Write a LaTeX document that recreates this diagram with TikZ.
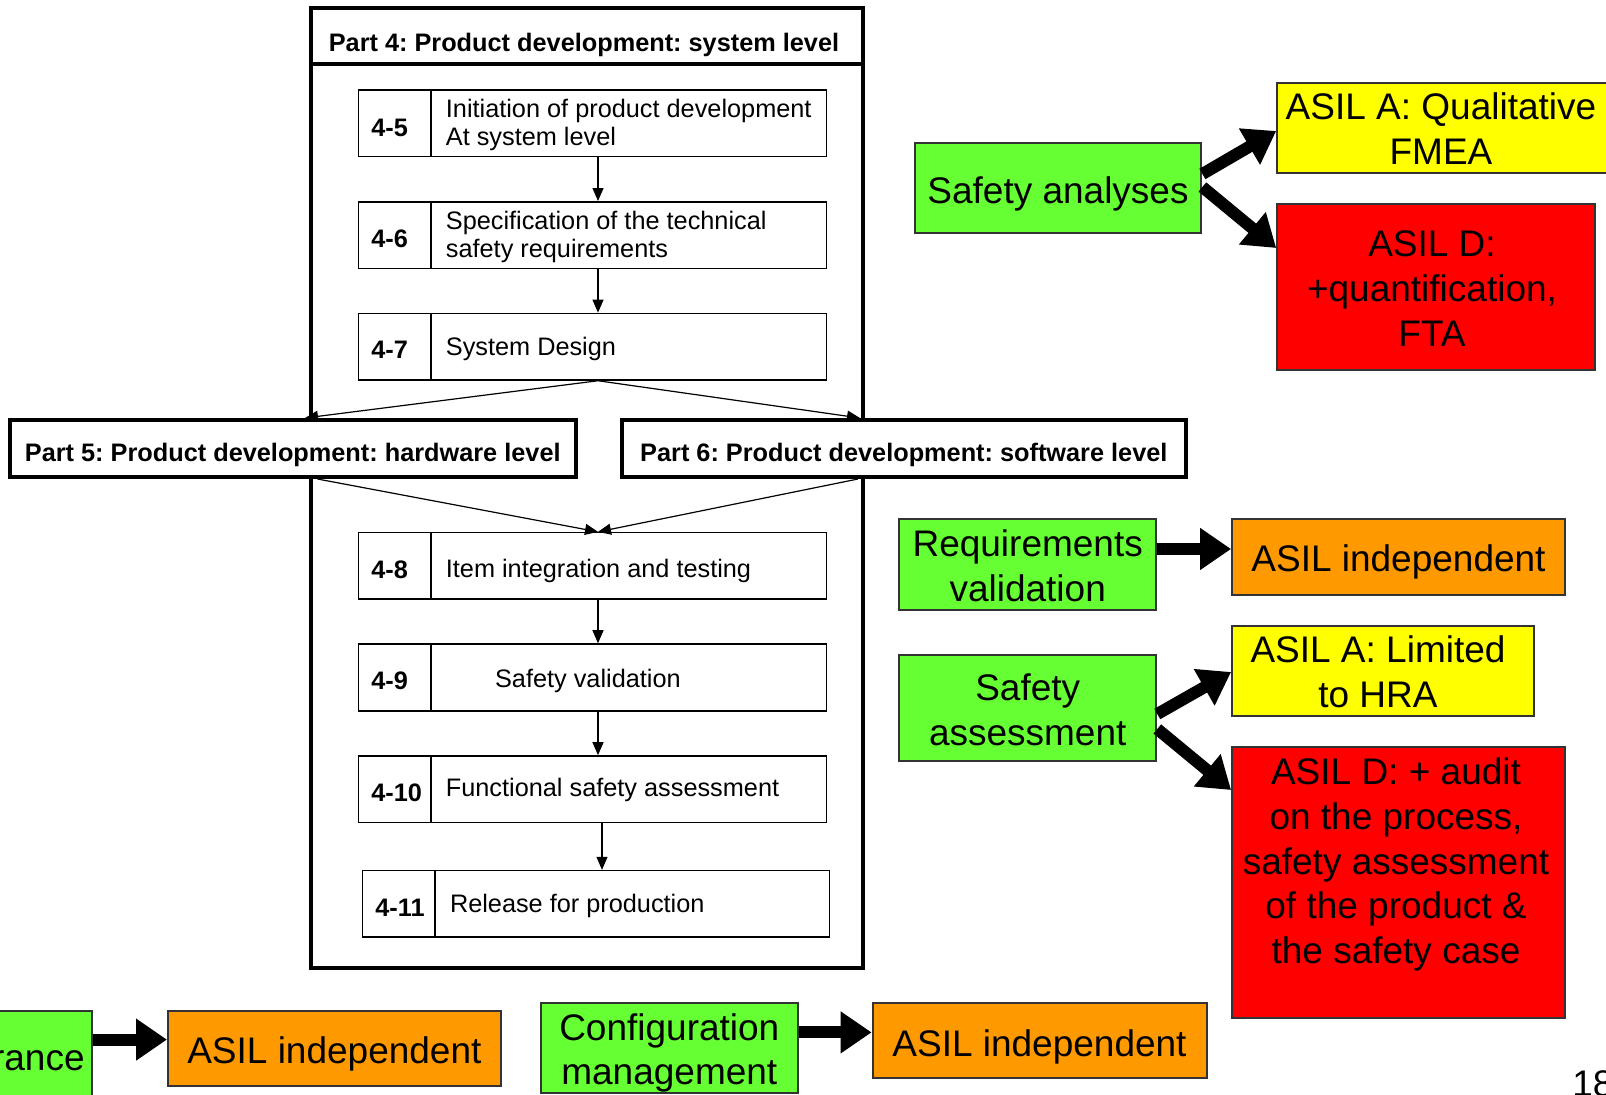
\documentclass[tikz,border=0pt]{standalone}
\usepackage{fontspec}
\setmainfont{Liberation Sans}
\usetikzlibrary{arrows.meta,fit}
\definecolor{cgreen}{HTML}{66FF33}
\definecolor{cyellow}{HTML}{FFFF00}
\definecolor{cred}{HTML}{FF0000}
\definecolor{corange}{HTML}{FF9900}
\tikzset{
 frame/.style={draw, line width=2pt, inner sep=0pt},
 partbox/.style={draw, line width=2pt, fill=white, inner sep=0pt},
 rowbox/.style={draw, line width=0.75pt, inner sep=0pt},
 num/.style={font=\bfseries\fontsize{12.65}{14}\selectfont, anchor=west, inner sep=0pt},
 desc/.style={font=\fontsize{12.65}{13.8}\selectfont, anchor=west, align=left, inner sep=0pt},
 ttl/.style={font=\bfseries\fontsize{12.65}{14}\selectfont, inner sep=0pt},
 flow/.style={-{Triangle[width=5.5pt,length=6.5pt]}, line width=0.6pt},
 cbox/.style={draw=black!80, line width=1pt, inner sep=0pt},
 gbox/.style={cbox, fill=cgreen},
 ybox/.style={cbox, fill=cyellow},
 rbox/.style={cbox, fill=cred},
 obox/.style={cbox, fill=corange},
 ctext/.style={inner sep=0pt, align=center, font=\fontsize{18.5}{22.3}\selectfont},
 big/.style={-{Triangle[width=20pt,length=15.5pt]}, line width=6pt},
}
\begin{document}
\frenchspacing
\begin{tikzpicture}[x=0.5pt,y=-0.5pt]
\useasboundingbox (0,0) rectangle (1606,1095);
\clip (0,0) rectangle (1606,1095);
% Part 4 frame
\node[frame, fit={(311,8) (863,968)}] (p4) {};
\draw[line width=2pt] (p4.west |- 0,64.5) -- (p4.east |- 0,64.5);
\node[ttl] (p4t) at (584,45) {Part 4: Product development: system level};
% rows
\node[rowbox, fit={(358.5,90) (826.5,156.7)}] (r45) {};
\draw[line width=0.75pt] (431,90) -- (431,156.7);
\node[num] (n45) at (371,128) {4-5};
\node[desc] (t45) at (445.5,125) {Initiation of product development\\At system level};
\node[rowbox, fit={(358.5,201.8) (826.5,268.3)}] (r46) {};
\draw[line width=0.75pt] (431,201.8) -- (431,268.3);
\node[num] (n46) at (371,239) {4-6};
\node[desc] (t46) at (445.5,237) {Specification of the technical\\safety requirements};
\node[rowbox, fit={(358.5,313.4) (826.5,380)}] (r47) {};
\draw[line width=0.75pt] (431,313.4) -- (431,380);
\node[num] (n47) at (371,350) {4-7};
\node[desc] (t47) at (445.5,348.5) {System Design};
\node[rowbox, fit={(358.5,532.6) (826.5,599)}] (r48) {};
\draw[line width=0.75pt] (431,532.6) -- (431,599);
\node[num] (n48) at (371,569.5) {4-8};
\node[desc] (t48) at (445.5,570.5) {Item integration and testing};
\node[rowbox, fit={(358.5,644) (826.5,710.8)}] (r49) {};
\draw[line width=0.75pt] (431,644) -- (431,710.8);
\node[num] (n49) at (371,681) {4-9};
\node[desc] (t49) at (494.7,681) {Safety validation};
\node[rowbox, fit={(358.5,755.9) (826.5,822.4)}] (r410) {};
\draw[line width=0.75pt] (431,755.9) -- (431,822.4);
\node[num] (n410) at (371,792.5) {4-10};
\node[desc] (t410) at (445.5,790) {Functional safety assessment};
\node[rowbox, fit={(362.5,870.6) (829.6,937)}] (r411) {};
\draw[line width=0.75pt] (435,870.6) -- (435,937);
\node[num] (n411) at (375,908) {4-11};
\node[desc] (t411) at (449.6,905.5) {Release for production};
% Part 5 / 6
\node[partbox, fit={(10,420) (575.6,477)}] (p5) {};
\node[ttl] (p5t) at ([yshift=-3pt]p5.center) {Part 5: Product development: hardware level};
\node[partbox, fit={(621.7,420) (1186,477)}] (p6) {};
\node[ttl] (p6t) at ([yshift=-3pt]p6.center) {Part 6: Product development: software level};
% flow arrows
\coordinate (ax) at (598,0);
\coordinate (bx) at (602,0);
\draw[flow] (r45.south -| ax) -- (r46.north -| ax);
\draw[flow] (r46.south -| ax) -- (r47.north -| ax);
\draw[flow] (r47.south -| ax) -- (p5.north -| 305,0);
\draw[flow] (r47.south -| ax) -- (p6.north -| 860,0);
\draw[flow] (p5.south -| 317.5,0) -- (r48.north -| ax);
\draw[flow] (p6.south -| 858,0) -- (r48.north -| ax);
\draw[flow] (r48.south -| ax) -- (r49.north -| ax);
\draw[flow] (r49.south -| ax) -- (r410.north -| ax);
\draw[flow] (r410.south -| bx) -- (r411.north -| bx);
% coloured boxes
\node[gbox, fit={(914.6,143.4) (1201.4,233.5)}] (SA) {};
\node[ctext] (SAt) at (1058,193.5) {Safety analyses};
\node[ybox, fit={(1277.2,83) (1608,173)}] (A1) {};
\node[ctext] (A1t) at (1441,128.5) {ASIL A: Qualitative\\FMEA};
\node[rbox, fit={(1277.2,203.8) (1594.7,369.7)}] (D1) {};
\node[ctext] (D1t) at (1432,288.5) {ASIL D:\\+quantification,\\FTA};
\node[gbox, fit={(899.2,519.3) (1156.3,610.4)}] (RV) {};
\node[ctext] (RVt) at (1027.7,566) {Requirements\\validation};
\node[obox, fit={(1232.1,519.3) (1565,595)}] (O1) {};
\node[ctext] (O1t) at (1398.5,562) {ASIL independent};
\node[gbox, fit={(899.2,655.5) (1156.3,761)}] (SAs) {};
\node[ctext] (SAst) at (1027.7,710) {Safety\\assessment};
\node[ybox, fit={(1232.1,625.8) (1534.3,716)}] (A2) {};
\node[ctext] (A2t) at (1378,671.5) {ASIL A: Limited\\to HRA};
\node[rbox, fit={(1232.1,746.6) (1565,1018)}] (D2) {};
\node[ctext] (D2t) at (1396,864.5) {ASIL D: + audit\\on the process,\\safety assessment\\of the product \&\\the safety case};
\node[gbox, fit={(-20,1011) (92.2,1110)}] (Q) {};
\node[ctext, anchor=east] (Qt) at (85,1061) {rance};
\node[obox, fit={(168,1011) (500.8,1085.6)}] (O2) {};
\node[ctext] (O2t) at (334.4,1053.5) {ASIL independent};
\node[gbox, fit={(540.8,1002.7) (797.9,1092.8)}] (CM) {};
\node[ctext] (CMt) at (669.3,1053) {Configuration\\management};
\node[obox, fit={(872.6,1002.7) (1206.5,1077.5)}] (O3) {};
\node[ctext] (O3t) at (1039.5,1046.5) {ASIL independent};
\node[ctext, anchor=west] (pg) at (1572,1084) {18};
% thick arrows
\draw[big] (SA.east |- 0,174) -- (A1.west |- 0,131);
\draw[big] (SA.east |- 0,187) -- (D1.west |- 0,248);
\draw[big] (RV.east |- 0,549) -- (O1.west |- 0,549);
\draw[big] (SAs.east |- 0,714) -- (A2.west |- 0,672);
\draw[big] (SAs.east |- 0,729) -- (D2.west |- 0,790);
\draw[big] (Q.east |- 0,1039.6) -- (O2.west |- 0,1039.6);
\draw[big] (CM.east |- 0,1032.4) -- (O3.west |- 0,1032.4);
\end{tikzpicture}
\end{document}
